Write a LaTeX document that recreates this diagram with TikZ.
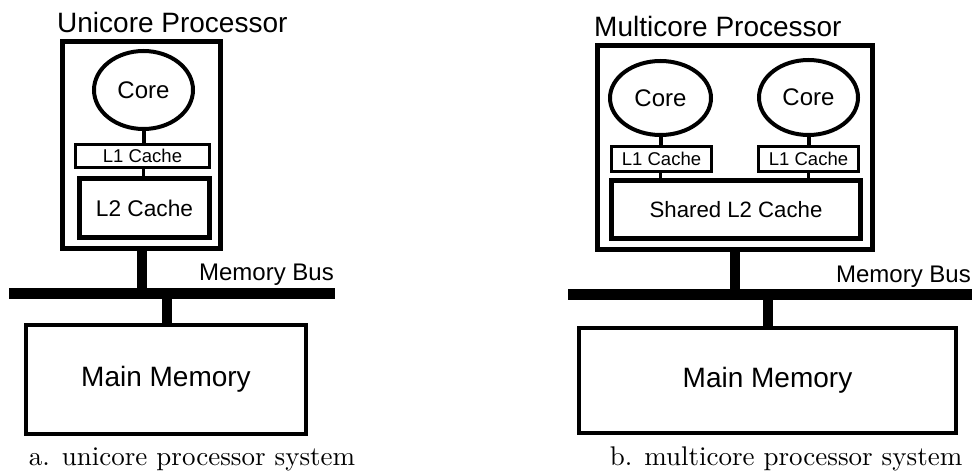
\documentclass[tikz,border=0pt]{standalone}
\usepackage{fontspec}
\usetikzlibrary{shapes.geometric}
\newfontfamily\arialish{Liberation Sans}
\newcommand{\sz}[1]{\arialish\fontsize{#1}{#1}\selectfont}
\tikzset{
  box/.style={draw, rectangle, inner sep=0pt, line width=#1},
  box/.default=4pt,
  coreshape/.style={draw, ellipse, inner sep=0pt, line width=4pt, font=\sz{24}},
  link/.style={line width=#1},
  wire/.style={line width=10pt},
  busline/.style={line width=11pt},
  title/.style={anchor=base west, inner sep=0pt, font=\sz{28}},
  buslabel/.style={anchor=base east, inner sep=0pt, font=\sz{24}},
  caption/.style={anchor=base, inner sep=0pt}
}
\begin{document}
\begin{tikzpicture}[x=1pt,y=-1pt]
\useasboundingbox (0,0) rectangle (972,473);

% ---------- a. unicore processor system ----------
\node[title] (ltitle) at (57,32.5) {Unicore Processor};
\node[box=5pt, minimum width=158pt, minimum height=207pt] (lproc) at (141.5,145) {};
\node[coreshape, minimum width=99pt, minimum height=78pt] (lcore) at (143.5,90) {Core\hspace{9pt}};
\node[box=3pt, minimum width=134pt, minimum height=23pt, font=\sz{18.5}] (ll1) at (142.5,156) {L1 Cache\hspace{6pt}};
\node[box=5pt, minimum width=130pt, minimum height=59pt, font=\sz{22.7}] (ll2) at (144.5,208) {L2 Cache};
\draw[link=4pt] (lcore.south) -- (lcore.south |- ll1.north);
\draw[link=3pt] (lcore.south |- ll1.south) -- (lcore.south |- ll2.north);

\coordinate (lbusW) at (9,293.5);
\coordinate (lbusE) at (335,293.5);
\draw[busline] (lbusW) -- (lbusE);
\node[buslabel] (lbuslabel) at (334,280) {Memory Bus};

\node[box=4pt, minimum width=280pt, minimum height=109pt, font=\sz{28}] (lmem) at (166,379.5) {Main Memory};
\draw[wire] ([xshift=0.5pt]lproc.south) -- ([xshift=0.5pt]lproc.south |- lbusW);
\draw[wire] ([xshift=1pt]lmem.north) -- ([xshift=1pt]lmem.north |- lbusW);

\node[caption] (lcap) at (192,465) {\scalebox{2.70}{a. unicore processor system}};

% ---------- b. multicore processor system ----------
\node[title] (rtitle) at (594,36.7) {Multicore Processor};
\node[box=5pt, minimum width=275pt, minimum height=204pt] (rproc) at (735,147.5) {};
\node[coreshape, minimum width=101pt, minimum height=74pt] (rcoreA) at (660.5,98) {Core\hspace{9pt}};
\node[coreshape, minimum width=99pt, minimum height=75pt] (rcoreB) at (808.5,97.5) {Core\hspace{9pt}};
\node[box=3pt, minimum width=100pt, minimum height=25pt, font=\sz{18.5}] (rl1A) at (661.5,159) {L1 Cache\hspace{7pt}};
\node[box=3pt, minimum width=100pt, minimum height=25pt, font=\sz{18.5}] (rl1B) at (808.5,159) {L1 Cache\hspace{5pt}};
\node[box=5pt, minimum width=249pt, minimum height=58pt, font=\sz{22.2}] (rl2) at (736,209.5) {Shared L2 Cache};
\draw[link=4pt] (rcoreA.south) -- (rcoreA.south |- rl1A.north);
\draw[link=4pt] (rcoreB.south) -- (rcoreB.south |- rl1B.north);
\draw[link=3pt] (rcoreA.south |- rl1A.south) -- (rcoreA.south |- rl2.north);
\draw[link=3pt] (rcoreB.south |- rl1B.south) -- (rcoreB.south |- rl2.north);

\coordinate (rbusW) at (568,294.5);
\coordinate (rbusE) at (972,294.5);
\draw[busline] (rbusW) -- (rbusE);
\node[buslabel] (rbuslabel) at (971,282) {Memory Bus};

\node[box=4pt, minimum width=377pt, minimum height=105pt, font=\sz{28}] (rmem) at (767.5,380.5) {Main Memory};
\draw[wire] (rproc.south) -- (rproc.south |- rbusW);
\draw[wire] ([xshift=0.5pt]rmem.north) -- ([xshift=0.5pt]rmem.north |- rbusW);

\node[caption] (rcap) at (786,465) {\scalebox{2.70}{b. multicore processor system}};
\end{tikzpicture}
\end{document}
